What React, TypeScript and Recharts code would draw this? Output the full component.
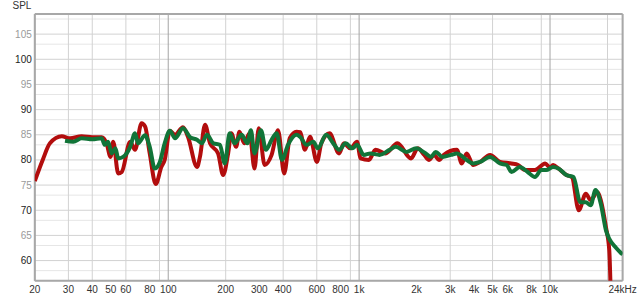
import React from 'react';
import { LineChart, Line, XAxis, YAxis, CartesianGrid } from 'recharts';

// Red measurement
const redFreq = [20, 22, 24, 27.7, 30.6, 35.2, 40, 44.8, 47.5, 49.9, 51.5, 54.7, 57.1, 63.2, 67, 72.5, 75.7, 80, 86, 92, 95.8, 102, 108.6, 119.5, 126.9, 141.5, 146.6, 155.9, 165.6, 182.5, 193.8, 206, 214, 226.9, 236, 250, 267, 283, 298, 320, 348, 376, 405, 433, 470, 492, 520, 553, 601, 634, 700, 785, 833, 900, 976, 1017, 1125, 1218, 1377, 1588, 1870, 2029, 2193, 2326, 2470, 2620, 2780, 3250, 3450, 3660, 3960, 4300, 4850, 5470, 6280, 6810, 7400, 8340, 9430, 10000, 10380, 11060, 12180, 13020, 14150, 15400, 16330, 17700, 18450, 19640, 20440, 20900];
const redSpl = [75.8, 80, 83.3, 84.7, 84.3, 84.7, 84.5, 84.5, 83.3, 80.6, 83.6, 77.3, 77.6, 83.6, 82, 87.3, 86.6, 81.3, 75.2, 78.6, 80, 85.8, 85, 86.5, 84.6, 78.6, 80.6, 87, 83.3, 81.3, 77, 81.3, 85.3, 82.6, 85.6, 83.3, 85.3, 78.3, 86.3, 79, 81, 85.9, 77.3, 84.3, 85.6, 85.5, 82, 84.6, 79.6, 83.3, 85.3, 81.3, 83.3, 82.3, 83.6, 80.3, 80, 82, 81.3, 83.3, 80.3, 82.3, 81, 80, 81, 80, 81, 82, 79.3, 81.3, 79, 79.6, 81, 79.6, 79.3, 79, 78, 78, 79.3, 78.5, 79, 78.3, 77, 76.6, 70, 73.3, 72, 73.6, 72, 66.6, 62, 50];

// Green measurement
const greenFreq = [28.8, 31.8, 35.2, 40, 44.8, 46.5, 48.4, 50.6, 52.9, 54.7, 58, 63.2, 67, 69.5, 75.6, 80, 85, 90.4, 95.8, 102, 108.6, 119.5, 130.5, 141.5, 150, 159.5, 172.5, 186.6, 197.8, 209.8, 222.6, 242, 260, 271, 283, 306, 325, 348, 370, 394, 424, 470, 490, 530, 575, 608, 672, 732, 785, 851, 921, 976, 1057, 1146, 1279, 1445, 1557, 1770, 1990, 2193, 2380, 2520, 2730, 3030, 3250, 3660, 3960, 4300, 4850, 5470, 5930, 6280, 6950, 7640, 8340, 9000, 9550, 10380, 11060, 12180, 13270, 14410, 15400, 16330, 17300, 18450, 19640, 20440, 22100, 23400, 24000];
const greenSpl = [83.8, 83.6, 84.3, 84.1, 84.3, 83, 83.6, 81.3, 82.3, 80.3, 80.6, 82.6, 85.3, 83.3, 84.9, 82.6, 78.3, 79.6, 83.3, 85.8, 84.3, 86.3, 84.5, 84, 83.3, 85, 83.3, 83, 79.3, 85.3, 83.3, 85, 83.3, 85.9, 81.3, 85.9, 82, 84, 85.3, 80, 83, 85, 84.6, 83, 83.6, 82.3, 85, 83.3, 82, 83.3, 82.3, 83, 81, 81.3, 81, 82, 82.6, 81.6, 82.3, 81.5, 80.6, 81.6, 80.6, 81, 81.3, 80, 79.3, 79.6, 80.6, 79.3, 79, 77.6, 78.6, 77.6, 76.6, 78, 78, 78.6, 78.3, 77, 76.6, 71.6, 71.6, 71, 74, 71.3, 66, 64.3, 62.6, 61.6, 61.2];

// Axis ticks
const xTicks = [20, 30, 40, 50, 60, 80, 100, 200, 300, 400, 600, 800, 1000, 2000, 3000, 4000, 5000, 6000, 8000, 10000, 24000];
const yTicks = [60, 65, 70, 75, 80, 85, 90, 95, 100, 105];

// Grid values
const gridXMinor = [30, 40, 50, 60, 70, 80, 90, 200, 300, 400, 500, 600, 700, 800, 900, 2000, 3000, 4000, 5000, 6000, 7000, 8000, 9000, 20000];
const gridXMajor = [100, 1000, 10000];
const gridYMinor = [57, 58, 59, 61, 62, 63, 64, 66, 67, 68, 69, 71, 72, 73, 74, 76, 77, 78, 79, 81, 82, 83, 84, 86, 87, 88, 89, 91, 92, 93, 94, 96, 97, 98, 99, 101, 102, 103, 104, 106, 107, 108];
const gridYMid = [60, 65, 70, 75, 80, 85, 90, 95, 100, 105];
const frameX = [20, 24000];
const frameY = [56, 109];

const X_DOMAIN = [20, 24000];
const Y_DOMAIN = [56, 109];

const redData = redFreq.map((f, i) => ({ f, v: redSpl[i] }));
const greenData = greenFreq.map((f, i) => ({ f, v: greenSpl[i] }));

const FONT = '"Liberation Sans", Arial, sans-serif';

const fmtX = (v: number) => (v === 24000 ? '24kHz' : v >= 1000 ? `${v / 1000}k` : `${v}`);

const YTick = (props: any) => {
  const { x, y, payload } = props;
  const major = payload.value % 10 === 0;
  return (
    <text x={x} y={y} dy="0.35em" textAnchor="end" fontSize={10} fontFamily={FONT} fill={major ? '#222' : '#9a9a9a'}>
      {payload.value}
    </text>
  );
};

const XTick = (props: any) => {
  const { x, y, payload } = props;
  return (
    <text x={x} y={y} dy="0.71em" textAnchor="middle" fontSize={10} fontFamily={FONT} fill="#333">
      {fmtX(payload.value)}
    </text>
  );
};

export default function App() {
  return (
    <div style={{ position: 'absolute', left: 0, top: 0, width: 640, height: 301, background: '#fff' }}>
      <div style={{ position: 'absolute', left: 12.5, top: 1, fontSize: 10, lineHeight: '10px', fontFamily: FONT, color: '#333' }}>SPL</div>
      <LineChart width={640} height={301} margin={{ top: 14, right: 17.4, bottom: 0, left: 0 }}>
        <XAxis
          xAxisId="main"
          type="number"
          dataKey="f"
          scale="log"
          domain={X_DOMAIN}
          ticks={xTicks}
          allowDataOverflow
          height={20.3}
          axisLine={false}
          tickLine={false}
          tickSize={0}
          tickMargin={5}
          interval={0}
          tick={<XTick />}
        />
        <YAxis
          yAxisId="main"
          type="number"
          domain={Y_DOMAIN}
          ticks={yTicks}
          allowDataOverflow
          width={34.8}
          axisLine={false}
          tickLine={false}
          tickSize={0}
          tickMargin={3}
          interval={0}
          tick={<YTick />}
        />

        {/* hidden grid axes */}
        <XAxis xAxisId="gmin" type="number" dataKey="f" scale="log" domain={X_DOMAIN} ticks={gridXMinor} allowDataOverflow hide height={0} />
        <XAxis xAxisId="gmaj" type="number" dataKey="f" scale="log" domain={X_DOMAIN} ticks={gridXMajor} allowDataOverflow hide height={0} />
        <XAxis xAxisId="gframe" type="number" dataKey="f" scale="log" domain={X_DOMAIN} ticks={frameX} allowDataOverflow hide height={0} />
        <YAxis yAxisId="ymin" type="number" domain={Y_DOMAIN} ticks={gridYMinor} allowDataOverflow hide width={0} />
        <YAxis yAxisId="ymid" type="number" domain={Y_DOMAIN} ticks={gridYMid} allowDataOverflow hide width={0} />
        <YAxis yAxisId="yframe" type="number" domain={Y_DOMAIN} ticks={frameY} allowDataOverflow hide width={0} />

        <CartesianGrid xAxisId="gmin" yAxisId="ymin" stroke="#e6e6e6" vertical={false} />
        <CartesianGrid xAxisId="gmin" yAxisId="ymid" stroke="#d2d2d2" vertical={false} />
        <CartesianGrid xAxisId="gmin" yAxisId="ymin" stroke="#d2d2d2" horizontal={false} />
        <CartesianGrid xAxisId="gmaj" yAxisId="ymin" stroke="#a4a4a4" horizontal={false} />

        <Line
          xAxisId="main"
          yAxisId="main"
          data={redData}
          dataKey="v"
          type="monotone"
          stroke="#b20d0d"
          strokeWidth={4}
          dot={false}
          activeDot={false}
          isAnimationActive={false}
        />
        <Line
          xAxisId="main"
          yAxisId="main"
          data={greenData}
          dataKey="v"
          type="monotone"
          stroke="#117438"
          strokeWidth={4}
          dot={false}
          activeDot={false}
          isAnimationActive={false}
        />

        <CartesianGrid xAxisId="gframe" yAxisId="yframe" stroke="#a8a8a8" strokeWidth={2} />
      </LineChart>
    </div>
  );
}
